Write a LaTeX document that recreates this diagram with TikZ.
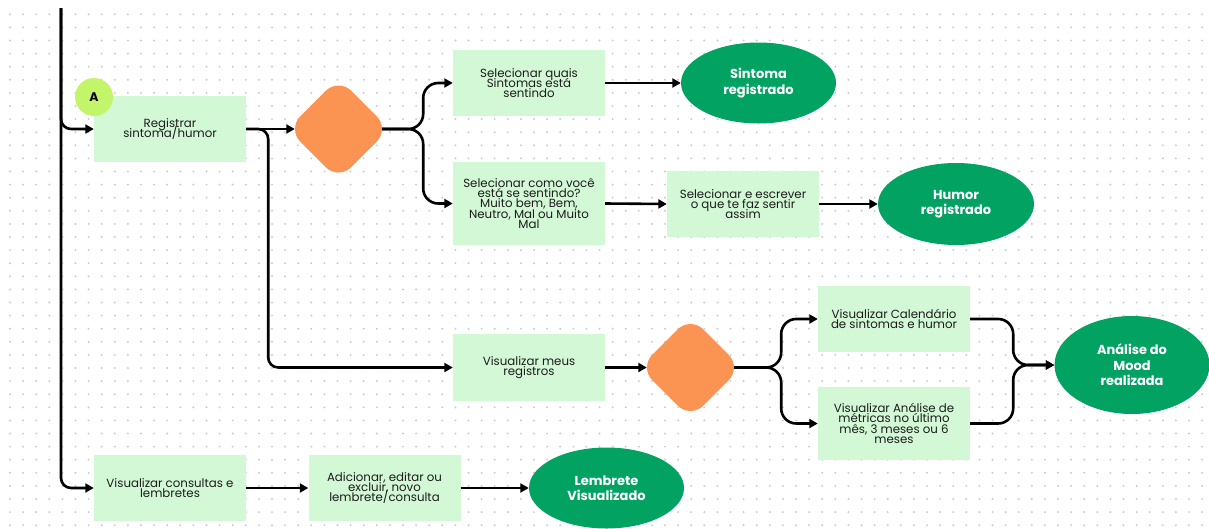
\documentclass[tikz,border=0pt]{standalone}
\usepackage{fontspec}
\setmainfont{Poppins}
\usetikzlibrary{arrows.meta,shapes.geometric}

\definecolor{boxfill}{HTML}{D3F8D6}
\definecolor{endfill}{HTML}{02A263}
\definecolor{decfill}{HTML}{FB9353}
\definecolor{startfill}{HTML}{C2F56A}
\definecolor{dotcol}{HTML}{CACCD2}
\definecolor{txt}{HTML}{1C1C1C}

% let label lines sit closer than their glyph extents would allow
\newcommand\tightlines{\setlength{\lineskiplimit}{-20pt}}

\tikzset{
  task/.style={rectangle, fill=boxfill, minimum width=152pt, minimum height=66pt,
    inner sep=0pt, align=center, text=txt,
    font=\fontsize{11.8}{10.2}\selectfont\tightlines},
  endstate/.style={ellipse, fill=endfill, minimum width=155pt, minimum height=81pt,
    inner sep=0pt, align=center, text=white,
    font=\fontsize{13}{15.5}\selectfont\bfseries\tightlines},
  decision/.style={diamond, fill=decfill, minimum width=102pt, minimum height=102pt,
    inner sep=0pt, rounded corners=18pt},
  startmark/.style={circle, fill=startfill, minimum size=38pt, inner sep=0pt,
    font=\fontsize{12.5}{12}\selectfont\bfseries},
  conn/.style={line width=2.6pt, black, rounded corners=10pt,
    -{Triangle[length=8.5pt,width=9pt]}},
  fork/.style={conn, rounded corners=15pt},
}

\begin{document}
\begin{tikzpicture}[x=1pt,y=-1pt]
  \useasboundingbox (0,0) rectangle (1209,528);
  \fill[white] (0,0) rectangle (1209,528);

  % dotted canvas grid
  \foreach \i in {0,...,91}
    \foreach \j in {0,...,39}
      \fill[dotcol] (10+13.1*\i,14.3+13.1*\j) circle (1.1pt);

  % process steps
  \node[task] (reg) at (170,129) {Registrar\\sintoma/humor};
  \node[startmark] (A) at (94,97) {A};
  \node[decision] (d1) at (338.5,129) {};
  \node[task] (s1) at (529,83) {Selecionar quais\\Sintomas está\\sentindo};
  \node[task, minimum height=83pt] (s2) at (529,203.5)
    {Selecionar como você\\está se sentindo?\\Muito bem, Bem,\\Neutro, Mal ou Muito\\Mal};
  \node[task] (s3) at (743,204) {Selecionar e escrever\\o que te faz sentir\\assim};
  \node[endstate] (e1) at (758.5,83) {Sintoma\\registrado};
  \node[endstate, minimum width=156pt, minimum height=82pt] (e2) at (956,204) {Humor\\registrado};

  \node[task, minimum height=67pt] (vm) at (529,367.5) {Visualizar meus\\registros};
  \node[decision] (d2) at (690.5,367.5) {};
  \node[task] (c1) at (894,319) {Visualizar Calendário\\de sintomas e humor};
  \node[task, minimum height=73pt] (c2) at (894,423.5)
    {Visualizar Análise de\\métricas no último\\mês, 3 meses ou 6\\meses};
  \node[endstate, minimum height=98pt] (e3) at (1132,365) {Análise do\\Mood\\realizada};

  \node[task] (vc) at (170,488) {Visualizar consultas e\\lembretes};
  \node[task] (ad) at (384.5,488) {Adicionar, editar ou\\excluir, novo\\lembrete/consulta};
  \node[endstate] (e4) at (606.5,488) {Lembrete\\Visualizado};

  % incoming flow line
  \coordinate (top) at (61,8);
  \draw[conn] (top) |- (reg.west);
  \draw[conn] (top) |- (vc.west);

  % connectors
  \draw[conn] (reg.east) -- ([xshift=7.5pt]d1.west);
  \draw[conn] (reg.east) -- ++(22,0) |- (vm.west);
  \draw[fork] ([xshift=-7.5pt]d1.east) -- ++(41,0) |- (s1.west);
  \draw[fork] ([xshift=-7.5pt]d1.east) -- ++(41,0) |- (s2.west);
  \draw[conn] (s1.east) -- (e1.west);
  \draw[conn] (s2.east) -- (s3.west);
  \draw[conn] (s3.east) -- (e2.west);

  \draw[conn] (vm.east) -- ([xshift=7.5pt]d2.west);
  \draw[fork] ([xshift=-7.5pt]d2.east) -- ++(47,0) |- (c1.west);
  \draw[fork] ([xshift=-7.5pt]d2.east) -- ++(47,0) |- (c2.west);
  \draw[fork] (c1.east) -- ++(43,0) |- (e3.west);
  \draw[fork] (c2.east) -- ++(43,0) |- (e3.west);

  \draw[conn] (vc.east) -- (ad.west);
  \draw[conn] (ad.east) -- (e4.west);
\end{tikzpicture}
\end{document}
